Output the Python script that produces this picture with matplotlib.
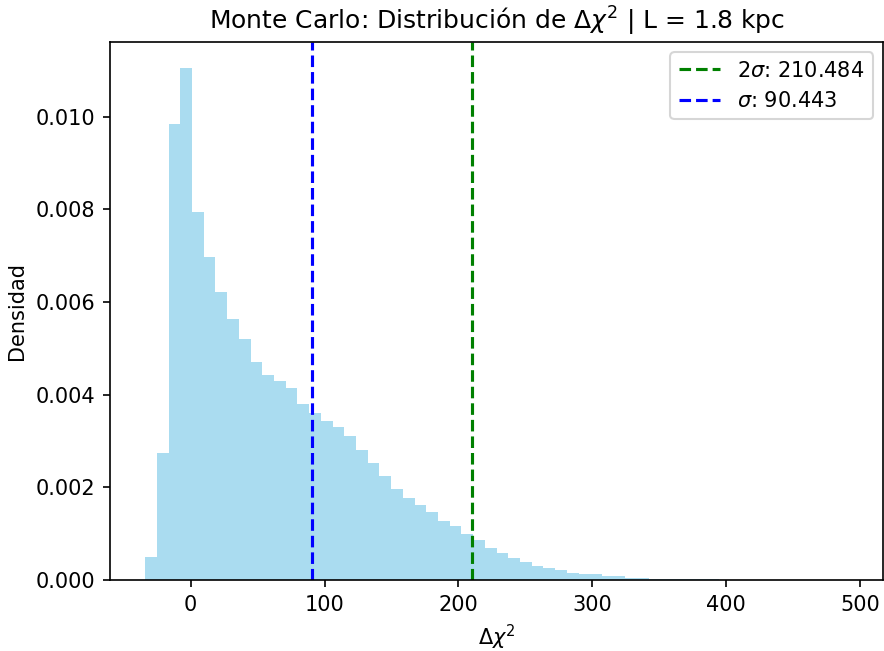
import numpy as np
import matplotlib
matplotlib.use("Agg")
import matplotlib.pyplot as plt

# histogram range and densities (60 bins)
dchi2_min = -34.0
dchi2_max = 491.0
n_bins = 60
densidad = [
    0.00049, 0.00274, 0.00985, 0.01106, 0.00794, 0.00698, 0.00622, 0.00564,
    0.00521, 0.00470, 0.00442, 0.00429, 0.00414, 0.00380, 0.00361, 0.00343,
    0.00330, 0.00311, 0.00280, 0.00252, 0.00225, 0.00196, 0.00177, 0.00161,
    0.00146, 0.00127, 0.00117, 0.00099, 0.00086, 0.00070, 0.00058, 0.00047,
    0.00040, 0.00030, 0.00025, 0.00021, 0.00015, 0.00012, 0.00012, 0.00008,
    0.00008, 0.00005, 0.00005, 0.00003, 0.00003, 0.000028, 0.000026, 0.000025,
    0.000024, 0.000006, 0.000005, 0.000004, 0.000003, 0.000002, 0.000002,
    0.000001, 0.000001, 0.000001, 0.0000005, 0.0000005,
]

sigma = 90.443
dos_sigma = 210.484

edges = np.linspace(dchi2_min, dchi2_max, n_bins + 1)
centers = 0.5 * (edges[:-1] + edges[1:])

fig, ax = plt.subplots(figsize=(884 / 150, 651 / 150), dpi=150)
fig.subplots_adjust(left=0.1244, right=0.999, top=0.9355, bottom=0.109)

ax.hist(centers, bins=edges, weights=densidad, color='skyblue', alpha=0.7)
ax.axvline(dos_sigma, color='green', linestyle='--', label=rf'$2\sigma$: {dos_sigma:.3f}')
ax.axvline(sigma, color='blue', linestyle='--', label=rf'$\sigma$: {sigma:.3f}')

ax.set_title(r'Monte Carlo: Distribución de $\Delta\chi^2$ | L = 1.8 kpc')
ax.set_xlabel(r'$\Delta\chi^2$')
ax.set_ylabel('Densidad')
ax.legend(loc='upper right')

plt.savefig("out.png")
